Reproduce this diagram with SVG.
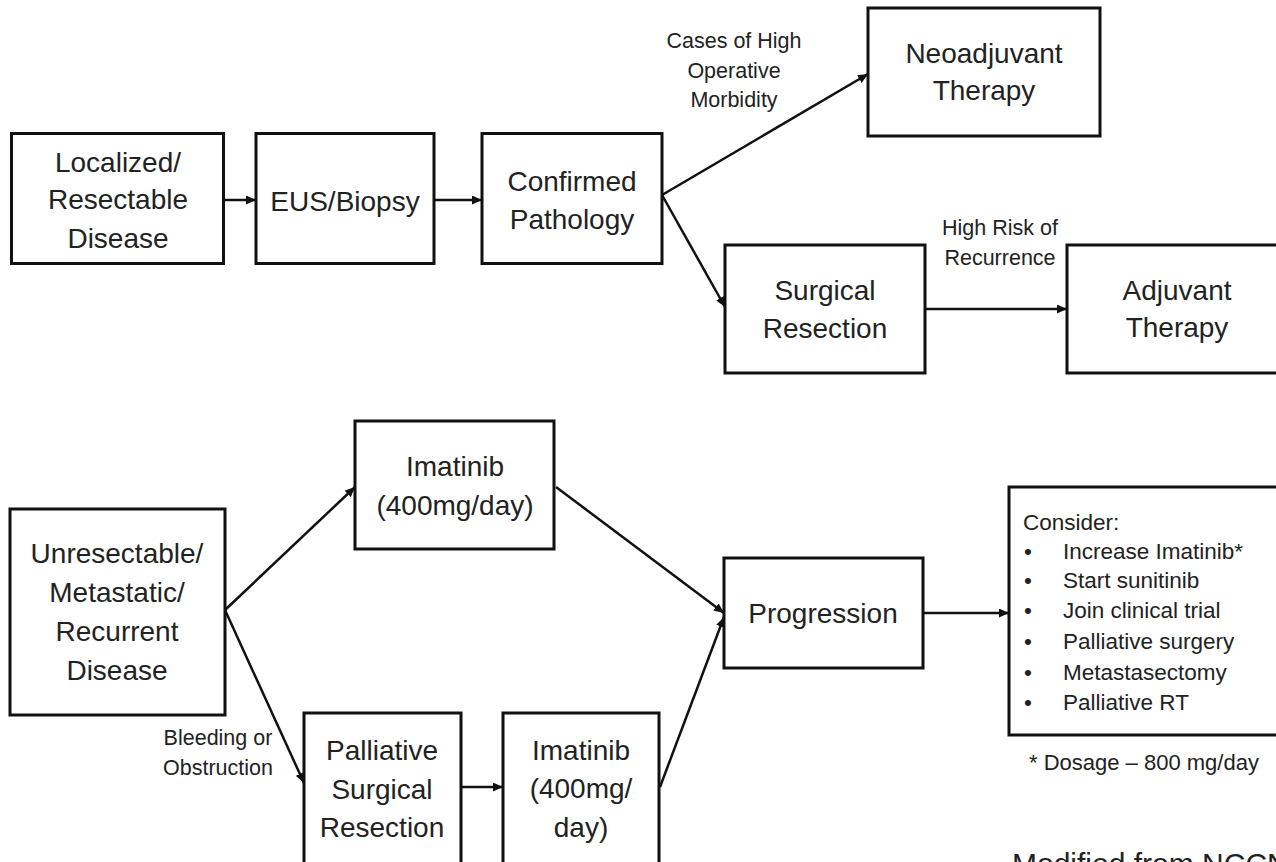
<svg xmlns="http://www.w3.org/2000/svg" width="1276" height="862" viewBox="0 0 1276 862">
<defs>
<style>
.box{fill:#fff;stroke:#111;stroke-width:3}
.t{font-family:"Liberation Sans",Arial,sans-serif;font-size:28px;fill:#222;text-anchor:middle}
.lb{font-family:"Liberation Sans",Arial,sans-serif;font-size:21.5px;fill:#222;text-anchor:middle}
.li{font-family:"Liberation Sans",Arial,sans-serif;font-size:22.5px;fill:#222}
.cn{fill:none;stroke:#111;stroke-width:2.5;marker-end:url(#ah)}
</style>
<marker id="ah" markerUnits="userSpaceOnUse" markerWidth="10" markerHeight="9" refX="10" refY="4.5" orient="auto">
<path d="M0,0 L10,4.5 L0,9 z" fill="#111"/>
</marker>
</defs>
<rect width="1276" height="862" fill="#fff"/>

<g id="connectors">
<line class="cn" x1="224" y1="200" x2="256" y2="200"/>
<line class="cn" x1="434" y1="200" x2="482" y2="200"/>
<line class="cn" x1="662" y1="195" x2="868" y2="74"/>
<line class="cn" x1="662" y1="195" x2="725" y2="307"/>
<line class="cn" x1="925" y1="309" x2="1067" y2="309"/>
<line class="cn" x1="225" y1="610" x2="355" y2="487"/>
<line class="cn" x1="225" y1="610" x2="304" y2="783"/>
<line class="cn" x1="461" y1="787" x2="503" y2="787"/>
<line class="cn" x1="556" y1="487" x2="724" y2="613"/>
<line class="cn" x1="660" y1="787" x2="724" y2="617"/>
<line class="cn" x1="923" y1="613" x2="1009" y2="613"/>
</g>

<g id="n-localized">
<rect class="box" x="11.5" y="133.5" width="212" height="130"/>
<text class="t" x="118" y="172">Localized/</text>
<text class="t" x="118" y="209">Resectable</text>
<text class="t" x="118" y="248">Disease</text>
</g>
<g id="n-eus">
<rect class="box" x="256" y="133.5" width="178" height="130"/>
<text class="t" x="345" y="211">EUS/Biopsy</text>
</g>
<g id="n-confirmed">
<rect class="box" x="482" y="133.5" width="180" height="130"/>
<text class="t" x="572" y="191">Confirmed</text>
<text class="t" x="572" y="229">Pathology</text>
</g>
<g id="n-neoadjuvant">
<rect class="box" x="868" y="8" width="232" height="128"/>
<text class="t" x="984" y="63">Neoadjuvant</text>
<text class="t" x="984" y="100">Therapy</text>
</g>
<g id="n-surgical">
<rect class="box" x="725" y="245" width="200" height="128"/>
<text class="t" x="825" y="300">Surgical</text>
<text class="t" x="825" y="338">Resection</text>
</g>
<g id="n-adjuvant">
<rect class="box" x="1067" y="245" width="240" height="128"/>
<text class="t" x="1177" y="300">Adjuvant</text>
<text class="t" x="1177" y="337">Therapy</text>
</g>
<g id="lbl-top">
<text class="lb" x="734" y="48">Cases of High</text>
<text class="lb" x="734" y="78">Operative</text>
<text class="lb" x="734" y="107">Morbidity</text>
<text class="lb" x="1000" y="235">High Risk of</text>
<text class="lb" x="1000" y="265">Recurrence</text>
</g>

<g id="n-unresectable">
<rect class="box" x="10" y="509" width="215" height="206"/>
<text class="t" x="117" y="563">Unresectable/</text>
<text class="t" x="117" y="602">Metastatic/</text>
<text class="t" x="117" y="641">Recurrent</text>
<text class="t" x="117" y="680">Disease</text>
</g>
<g id="n-imatinib1">
<rect class="box" x="355" y="421" width="199" height="128"/>
<text class="t" x="455" y="476">Imatinib</text>
<text class="t" x="455" y="515">(400mg/day)</text>
</g>
<g id="n-palliative">
<rect class="box" x="304" y="713" width="157" height="170"/>
<text class="t" x="382" y="760">Palliative</text>
<text class="t" x="382" y="799">Surgical</text>
<text class="t" x="382" y="837">Resection</text>
</g>
<g id="n-imatinib2">
<rect class="box" x="503" y="713" width="156" height="170"/>
<text class="t" x="581" y="760">Imatinib</text>
<text class="t" x="581" y="798">(400mg/</text>
<text class="t" x="581" y="837">day)</text>
</g>
<g id="n-progression">
<rect class="box" x="724" y="558" width="199" height="110"/>
<text class="t" x="823" y="623">Progression</text>
</g>
<g id="n-consider">
<rect class="box" x="1009" y="487" width="290" height="248"/>
<text class="li" x="1023" y="530">Consider:</text>
<text class="li" x="1024" y="559">•</text><text class="li" x="1063" y="559">Increase Imatinib*</text>
<text class="li" x="1024" y="588">•</text><text class="li" x="1063" y="588">Start sunitinib</text>
<text class="li" x="1024" y="618">•</text><text class="li" x="1063" y="618">Join clinical trial</text>
<text class="li" x="1024" y="649">•</text><text class="li" x="1063" y="649">Palliative surgery</text>
<text class="li" x="1024" y="680">•</text><text class="li" x="1063" y="680">Metastasectomy</text>
<text class="li" x="1024" y="710">•</text><text class="li" x="1063" y="710">Palliative RT</text>
</g>
<g id="lbl-bottom">
<text class="lb" x="218" y="745">Bleeding or</text>
<text class="lb" x="218" y="775">Obstruction</text>
<text class="li" x="1029" y="770" style="font-size:22px">* Dosage – 800 mg/day</text>
<text class="li" x="1012" y="874" style="font-size:30px">Modified from NCCN</text>
</g>
</svg>
